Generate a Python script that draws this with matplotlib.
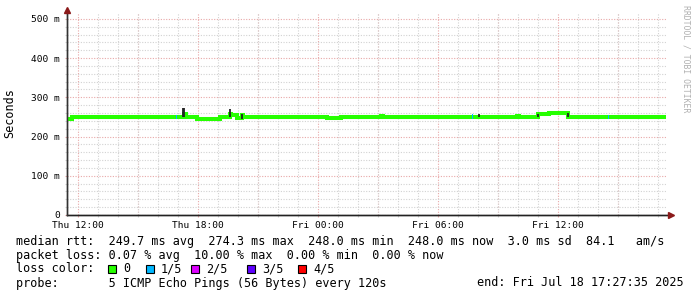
import matplotlib
matplotlib.use('Agg')
import matplotlib.pyplot as plt
from matplotlib.patches import Rectangle
from matplotlib.ticker import MultipleLocator

# median rtt (ms) as a step series, time in hours since Thu 00:00
med_t = [11.46, 11.71, 17.31, 17.41, 17.96, 19.11, 19.61, 19.66, 19.96,
         20.21, 20.26, 24.46, 25.16, 27.16, 27.26, 31.71, 31.81, 32.06, 32.16,
         33.96, 34.06, 35.01, 35.56, 35.96, 36.51, 41.41]
med_v = [246, 249, 258, 249, 246, 249, 258, 255, 247,
         254, 249, 247, 249, 252, 249, 250, 249, 251, 249,
         253, 249, 257, 259, 260, 249, 249]

# dark smoke spikes (individual pings)
smoke_t = [17.26, 17.31, 19.61, 20.21, 32.06, 35.01, 36.51]
smoke_lo = [249, 249, 249, 246, 249, 249, 249]
smoke_hi = [272, 274, 269, 257, 257, 258, 260]

# light smoke
light_t = [22.61, 23.56, 37.31, 37.96]
light_lo = [249, 249, 249, 249]
light_hi = [254, 252, 253, 253]

# 1/5 loss samples
loss_t = [16.91, 31.71, 38.51]
loss_lo = [245, 245, 245]
loss_hi = [254, 257, 255]

x_ticks = [12, 18, 24, 30, 36]
x_labels = ['Thu 12:00', 'Thu 18:00', 'Fri 00:00', 'Fri 06:00', 'Fri 12:00']
y_ticks = [0, 100, 200, 300, 400, 500]
y_labels = ['0', '100 m', '200 m', '300 m', '400 m', '500 m']

loss_names = ['0', '1/5', '2/5', '3/5', '4/5']
loss_colors = ['#26ff00', '#00b8ff', '#dd00ff', '#5e00ff', '#ff0000']

W, H = 697, 297
MONO = 'DejaVu Sans Mono'
plt.rcParams['font.family'] = MONO

fig = plt.figure(figsize=(W / 100, H / 100), dpi=100)
fig.patch.set_facecolor('white')

# plot area in pixels: x 67..667, y 13..215
ax = fig.add_axes([67 / W, (H - 215) / H, 600 / W, 202 / H])
ax.set_xlim(11.46, 41.46)
ax.set_ylim(0, 515)

minor_c = '#d2d2d2'
major_c = '#e8a8a8'
dots = (0, (1.0, 1.4))
ax.xaxis.set_minor_locator(MultipleLocator(1))
ax.yaxis.set_minor_locator(MultipleLocator(20))
ax.grid(which='minor', color=minor_c, linestyle=dots, lw=0.8)
ax.grid(which='major', color=major_c, linestyle=dots, lw=0.8)
ax.set_axisbelow(True)

ax.set_xticks(x_ticks, x_labels)
ax.set_yticks(y_ticks, y_labels)
# red grid every 3 hours
for h in range(12, 42, 3):
    if h not in x_ticks:
        ax.axvline(h, color=major_c, linestyle=dots, lw=0.8, zorder=0.5)
ax.tick_params(which='both', length=1.5, width=0.8, color=minor_c)
ax.tick_params(axis='x', labelsize=6.8, pad=3)
ax.tick_params(axis='y', labelsize=6.8, pad=3.5)
ax.tick_params(which='major', color=major_c)

for s in ['top', 'right']:
    ax.spines[s].set_visible(False)
for s in ['left', 'bottom']:
    ax.spines[s].set_color('#333333')
    ax.spines[s].set_linewidth(1.0)

# smoke
ax.vlines(light_t, light_lo, light_hi, color='#a0a0a0', lw=1.4, zorder=2)
# median line
ax.step(med_t, med_v, where='post', color=loss_colors[0], lw=2.9,
        solid_capstyle='butt', solid_joinstyle='miter', zorder=3)
ax.vlines(smoke_t, smoke_lo, smoke_hi, color='#222222', lw=1.3, zorder=4)
ax.bar(loss_t, [h - l for h, l in zip(loss_hi, loss_lo)], bottom=loss_lo,
       width=0.06, color=loss_colors[1], zorder=4, align='edge')

# arrows at the axis ends
arrow_c = '#8b1a1a'
ax.plot([0, 1.006], [0, 0], color='#222222', lw=1.0, transform=ax.transAxes,
        clip_on=False, zorder=5)
ax.plot([1.006], [0], marker='>', ms=4.5, color=arrow_c, transform=ax.transAxes,
        clip_on=False, zorder=6)
ax.plot([0, 0], [0, 1.01], color='#333333', lw=1.0, transform=ax.transAxes,
        clip_on=False, zorder=5)
ax.plot([0], [1.015], marker='^', ms=4.5, color=arrow_c, transform=ax.transAxes,
        clip_on=False, zorder=6)

fig.text(10 / W, 1 - 113 / H, 'Seconds', rotation=90, fontsize=8.5,
         ha='center', va='center')
fig.text(686 / W, 1 - 5 / H, 'RRDTOOL / TOBI OETIKER', rotation=270,
         fontsize=5.9, color='#b0b0b0', ha='center', va='top')

def line_text(x, y, s, **kw):
    fig.text(x / W, 1 - y / H, s, fontsize=8.5, va='center', **kw)

line_text(16, 241, 'median rtt:  249.7 ms avg  274.3 ms max  248.0 ms min  '
                   '248.0 ms now  3.0 ms sd  84.1   am/s')
line_text(16, 255, 'packet loss: 0.07 % avg  10.00 % max  0.00 % min  0.00 % now')
line_text(16, 269, 'loss color:')
line_text(16, 283, 'probe:       5 ICMP Echo Pings (56 Bytes) every 120s')
line_text(684, 283, 'end: Fri Jul 18 17:27:35 2025', ha='right')

box_x = [108, 146, 191, 247, 298]
for bx, name, col in zip(box_x, loss_names, loss_colors):
    fig.add_artist(Rectangle((bx / W, 1 - 273 / H), 8 / W, 8 / H,
                             transform=fig.transFigure, facecolor=col,
                             edgecolor='black', lw=0.8))
    line_text(bx + 15, 269, name)

fig.savefig('out.png', dpi=100)
